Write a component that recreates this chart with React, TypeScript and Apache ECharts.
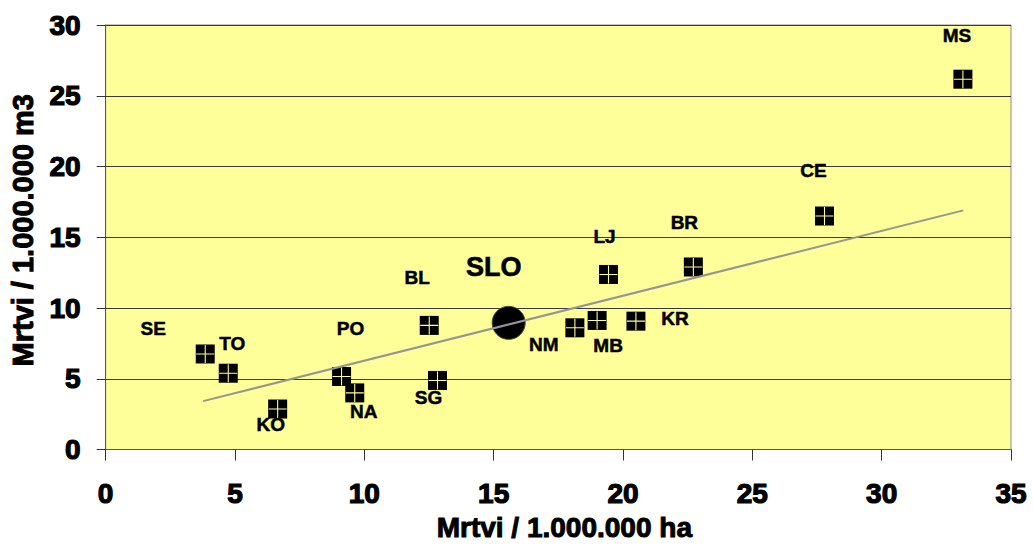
import React, { useEffect, useRef } from "react";
import * as echarts from "echarts";

// Region codes and values
const codes = ["SE", "TO", "KO", "PO", "NA", "BL", "SG", "NM", "MB", "KR", "LJ", "BR", "CE", "MS"];
const deathsPerHa = [3.85, 4.74, 6.65, 9.12, 9.63, 12.51, 12.83, 18.14, 19.0, 20.5, 19.44, 22.72, 27.79, 33.14];
const deathsPerM3 = [6.75, 5.39, 2.86, 5.16, 4.0, 8.77, 4.88, 8.6, 9.12, 9.07, 12.37, 12.9, 16.5, 26.17];

const sloName = "SLO";
const sloHa = 15.58;
const sloM3 = 8.95;

// Trend line end points
const trendHa = [3.77, 33.16];
const trendM3 = [3.42, 16.9];

const xTitle = "Mrtvi / 1.000.000 ha";
const yTitle = "Mrtvi / 1.000.000 m3";

// label placement (pixels, relative to the marker) – style, not data
const labelOffsets: number[][] = [
  [-52, -25], [4, -30], [-7, 15], [9, -48], [9, 19], [-12, -48], [-9, 17],
  [-31, 17], [11, 25], [39, -3], [-4, -38], [-9, -44], [-11, -46], [-6, -44],
];
const sloLabelOffset = [-15, -56];

const FONT = "'Liberation Sans', Arial, sans-serif";
const YELLOW = "#FFFF99";

export default function App() {
  const ref = useRef<HTMLDivElement>(null);

  useEffect(() => {
    if (!ref.current) return;
    const chart = echarts.init(ref.current, undefined, { renderer: "svg" });

    const pts = codes.map((c, i) => ({
      name: c,
      value: [deathsPerHa[i], deathsPerM3[i]],
      label: { offset: labelOffsets[i] },
    }));
    const plainPts = codes.map((c, i) => [deathsPerHa[i], deathsPerM3[i]]);

    const heavy = (size: number, border: number) => ({
      fontFamily: FONT,
      fontWeight: "bold",
      fontSize: size,
      color: "#000",
      textBorderColor: "#000",
      textBorderWidth: border,
    });

    chart.setOption({
      animation: false,
      backgroundColor: "#ffffff",
      grid: {
        left: 101,
        right: 22,
        top: 25,
        bottom: 92,
        show: true,
        backgroundColor: YELLOW,
        borderColor: "#8a8a8a",
        borderWidth: 1,
      },
      xAxis: {
        type: "value",
        min: 0,
        max: 35,
        interval: 5,
        name: xTitle,
        nameLocation: "middle",
        nameGap: 45,
        nameTextStyle: { ...heavy(28, 1), padding: [0, 0, 0, 12] },
        axisLine: { show: true, lineStyle: { color: "#555", width: 1 } },
        axisTick: { show: true, inside: false, length: 11, lineStyle: { color: "#333", width: 1 } },
        axisLabel: { margin: 30, ...heavy(28, 1.2) },
        splitLine: { show: false },
      },
      yAxis: {
        type: "value",
        min: 0,
        max: 30,
        interval: 5,
        name: yTitle,
        nameLocation: "middle",
        nameGap: 62,
        nameRotate: 90,
        nameTextStyle: { ...heavy(29, 1), padding: [0, 0, 0, 14] },
        axisLine: { show: true, lineStyle: { color: "#555", width: 1 } },
        axisTick: { show: true, inside: false, length: 9, lineStyle: { color: "#333", width: 1 } },
        axisLabel: { margin: 25, ...heavy(28, 1.2) },
        splitLine: { show: true, lineStyle: { color: "#3a3a3a", width: 1 } },
      },
      series: [
        {
          type: "scatter",
          name: "regions",
          symbol: "rect",
          symbolSize: 19,
          itemStyle: { color: "#000", opacity: 1 },
          data: pts,
          z: 3,
          label: {
            show: true,
            position: "inside",
            formatter: "{b}",
            ...heavy(19, 0.5),
          },
        },
        {
          type: "scatter",
          name: "cross",
          symbol: "path://M9.4,0H10.6V9.4H20V10.6H10.6V20H9.4V10.6H0V9.4H9.4Z",
          symbolSize: 18,
          itemStyle: { color: YELLOW, opacity: 1 },
          data: plainPts,
          z: 4,
          silent: true,
        },
        {
          type: "scatter",
          name: "slo",
          symbol: "circle",
          symbolSize: 33,
          itemStyle: { color: "#000", borderColor: "#4a4a20", borderWidth: 1, opacity: 1 },
          data: [{ name: sloName, value: [sloHa, sloM3] }],
          z: 3,
          label: {
            show: true,
            position: "inside",
            offset: sloLabelOffset,
            formatter: "{b}",
            ...heavy(27, 0.6),
          },
        },
        {
          type: "line",
          name: "trend",
          data: [
            [trendHa[0], trendM3[0]],
            [trendHa[1], trendM3[1]],
          ],
          symbol: "none",
          lineStyle: { color: "#959595", width: 2 },
          z: 5,
          silent: true,
        },
      ],
    });

    return () => chart.dispose();
  }, []);

  return (
    <div
      ref={ref}
      style={{ position: "absolute", left: 0, top: 0, width: 1033, height: 547 }}
    />
  );
}
